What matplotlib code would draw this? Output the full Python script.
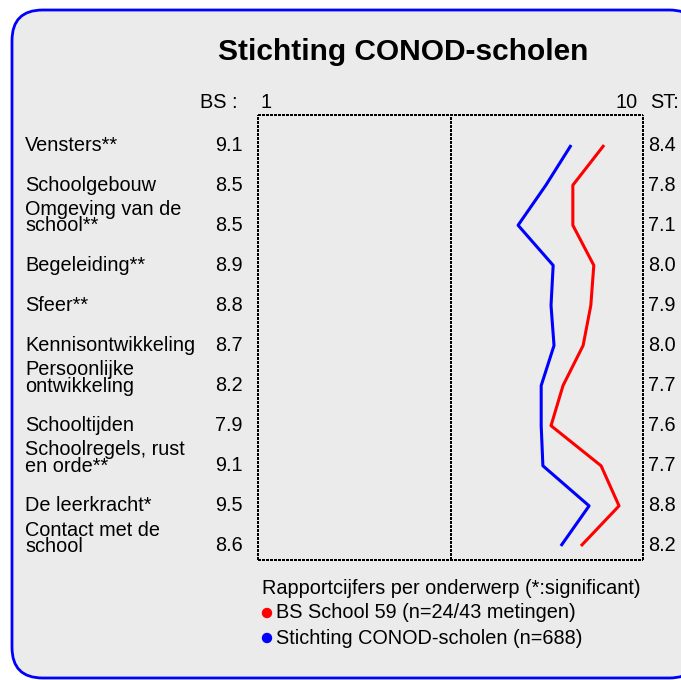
import matplotlib
matplotlib.use("Agg")
import matplotlib.pyplot as plt
from matplotlib.patches import FancyBboxPatch, Ellipse

plt.rcParams['font.family'] = ['Liberation Sans', 'DejaVu Sans']

title = "Stichting CONOD-scholen"
categories = ["Vensters**", "Schoolgebouw", "Omgeving van de\nschool**", "Begeleiding**",
              "Sfeer**", "Kennisontwikkeling", "Persoonlijke\nontwikkeling", "Schooltijden",
              "Schoolregels, rust\nen orde**", "De leerkracht*", "Contact met de\nschool"]
# printed scores
bs_labels = [9.1, 8.5, 8.5, 8.9, 8.8, 8.7, 8.2, 7.9, 9.1, 9.5, 8.6]
st_labels = [8.4, 7.8, 7.1, 8.0, 7.9, 8.0, 7.7, 7.6, 7.7, 8.8, 8.2]
# plotted positions
bs_line = [9.09, 8.36, 8.36, 8.85, 8.78, 8.60, 8.13, 7.85, 9.02, 9.44, 8.55]
st_line = [8.32, 7.73, 7.08, 7.90, 7.85, 7.92, 7.62, 7.62, 7.66, 8.74, 8.08]
legend_title = "Rapportcijfers per onderwerp (*:significant)"
bs_label = "BS School 59 (n=24/43 metingen)"
st_label = "Stichting CONOD-scholen (n=688)"

W, H = 681, 680
fig = plt.figure(figsize=(W / 100, H / 100), dpi=100)
fig.patch.set_facecolor('white')

def fx(px):
    return px / W

def fy(py):
    return 1 - py / H

# rounded background box
box = FancyBboxPatch((fx(12), fy(678)), fx(700) - fx(12), fy(10) - fy(678),
                     boxstyle="round,pad=0,rounding_size=0.045",
                     transform=fig.transFigure, facecolor='#ebebeb',
                     edgecolor='#0000ff', linewidth=2, zorder=-5)
fig.patches.append(box)

# plot axes
ax_l, ax_r, ax_t, ax_b = 258, 643, 115, 560
ax = fig.add_axes([fx(ax_l), fy(ax_b), fx(ax_r) - fx(ax_l), fy(ax_t) - fy(ax_b)])
ax.set_zorder(2)
ax.set_facecolor('none')
n = len(categories)
ypos = list(range(n))
ax.plot(bs_line, ypos, color='#ff0000', lw=2.2, solid_capstyle='butt')
ax.plot(st_line, ypos, color='#0000ff', lw=2.2, solid_capstyle='butt')
dots = (0, (1, 0.9))
vl = ax.axvline(5.5, color='black', lw=1.45, ls=dots)
vl.set_antialiased(False)
# dotted frame drawn as separate lines
for xs, ys in [([0, 1], [0, 0]), ([0, 1], [1, 1]), ([0, 0], [0, 1]), ([1, 1], [0, 1])]:
    fl, = ax.plot(xs, ys, transform=ax.transAxes, color='black', lw=1.45, ls=dots,
                  clip_on=False, solid_capstyle='butt')
    fl.set_antialiased(False)
ax.set_xlim(1, 10)
ax.set_ylim(n - 1 + 0.35, -0.75)
ax.set_xticks([])
ax.set_yticks([])
for s in ax.spines.values():
    s.set_visible(False)

fs = 14.3
fig.text(fx(403), fy(52), title, ha='center', va='center', fontsize=21.5, fontweight='bold')
fig.text(fx(238), fy(103), "BS :", ha='right', va='center', fontsize=fs)
fig.text(fx(ax_l + 2), fy(103), "1", ha='left', va='center', fontsize=fs)
fig.text(fx(638), fy(103), "10", ha='right', va='center', fontsize=fs)
fig.text(fx(650), fy(103), "ST:", ha='left', va='center', fontsize=fs)

for i, (cat, bv, sv) in enumerate(zip(categories, bs_labels, st_labels)):
    disp = ax.transData.transform((1, i))
    yf = fig.transFigure.inverted().transform(disp)[1]
    if "\n" in cat:
        fig.text(fx(25), yf - 10 / H, cat, ha='left', va='bottom', fontsize=fs, linespacing=0.82)
    else:
        fig.text(fx(25), yf, cat, ha='left', va='center', fontsize=fs)
    fig.text(fx(243), yf, f"{bv:.1f}", ha='right', va='center', fontsize=fs)
    fig.text(fx(648), yf, f"{sv:.1f}", ha='left', va='center', fontsize=fs)

fig.text(fx(262), fy(589), legend_title, ha='left', va='center', fontsize=fs)
fig.patches.append(Ellipse((fx(267), fy(613)), fx(9), 9 / H,
                   transform=fig.transFigure, color='#ff0000'))
fig.text(fx(276), fy(613), bs_label, ha='left', va='center', fontsize=fs)
fig.patches.append(Ellipse((fx(267), fy(638)), fx(9), 9 / H,
                   transform=fig.transFigure, color='#0000ff'))
fig.text(fx(276), fy(638), st_label, ha='left', va='center', fontsize=fs)

fig.savefig("out.png", dpi=100)
